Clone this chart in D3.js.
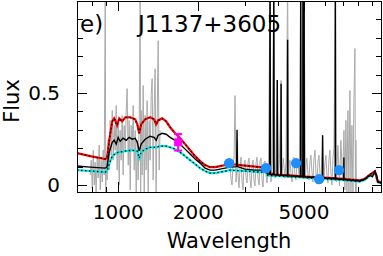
<!DOCTYPE html>
<html>
<head>
<meta charset="utf-8">
<title>J1137+3605</title>
<script src="https://cdn.jsdelivr.net/npm/d3@7"></script>
<style>
  body { margin: 0; background: #fff; }
  text { font-family: "DejaVu Sans", sans-serif; fill: #000; }
</style>
</head>
<body>
<div id="container"></div>
<script>
  // Observed spectrum, [wavelength (A), flux]
  const obsUV = [[785,0.054],[792,0.135],[799,-0.016],[806,0.189],[813,0],[819,0.124],[826,-0.038],[834,0.146],
    [841,0.038],[848,0.216],[856,-0.027],[863,0.135],[871,0.016],[878,0.189],[886,0.054],[894,1.05],[898,-0.038],
    [902,0.135],[909,0.027],[917,0.243],[925,0.081],[933,0.351],[941,0.162],[950,0.405],[958,0.135],[966,0.324],
    [974,0.189],[983,0.432],[991,0.081],[1000,0.351],[1009,0],[1017,0.297],[1026,0.135],[1035,0.378],[1044,0.054],
    [1053,0.324],[1063,0.189],[1072,0.405],[1081,0.524],[1091,0.108],[1100,0.351],[1110,-0.027],[1119,0.324],
    [1129,0.189],[1139,0.432],[1149,0.081],[1159,0.297],[1169,-0.038],[1179,0.243],[1189,0.027],[1200,0.351],
    [1210,1.05],[1215,-0.038],[1221,0.405],[1231,0.054],[1242,0.541],[1253,-0.038],[1263,0.378],[1274,0.081],
    [1285,0.459],[1297,-0.038],[1308,0.351],[1319,0.135],[1331,0.486],[1342,0.578],[1354,0.027],[1366,0.405],
    [1377,0.632],[1389,-0.038],[1402,0.351],[1414,0.784],[1426,0.081],[1438,0.297]];

  const obsOpt = [[2636,0.108],[2659,0.03],[2682,0],[2705,0.12],[2729,0.146],[2752,0.486],[2776,0.016],[2800,0.1],
    [2812,0.243],[2824,0.05],[2849,-0.016],[2874,0.1],[2899,0.151],[2924,0.02],[2949,-0.027],[2975,0.11],[3001,0.135],
    [3027,0.04],[3053,0.011],[3080,0.125],[3107,0.146],[3134,0.03],[3161,-0.016],[3188,0.1],[3216,0.135],[3244,0.02],
    [3272,-0.005],[3301,0.12],[3329,0.151],[3358,0.04],[3388,0],[3417,0.13],[3447,0.146],[3477,0.03],[3507,-0.011],
    [3538,0.12],[3568,0.13],[3600,0.05],[3630,0.011],[3677,0.119],[3727,1.1],[3758,0.016],
    [3791,0.135],[3850,1.1],[3890,0.038],[3924,0.124],[3968,0.568],[4010,0.049],[4045,0.146],[4101,0.568],
    [4132,0.054],[4178,0.146],[4242,0.038],[4280,0.135],[4340,1.1],[4380,0.038],[4405,0.12],[4430,0.135],[4470,0.06],
    [4508,0.016],[4547,0.11],[4586,0.151],[4625,0.05],[4666,0.027],[4707,0.12],[4748,0.135],[4780,0.06],[4810,0.038],
    [4861,1.1],[4910,0.054],[4959,1.1],[4985,0.05],[5007,1.1],
    [5060,0.038],[5095,0.12],[5130,0.146],[5175,0.06],[5220,0.027],[5266,0.13],[5312,0.162],[5358,0.07],[5405,0.016],
    [5452,0.14],[5500,0.189],[5548,0.06],[5597,0.005],[5646,0.13],[5695,0.162],[5745,0.06],[5795,0.016],[5876,0.27],
    [5945,0.038],[5997,0.12],[6049,0.162],[6102,0.05],[6155,0.011],[6208,0.14],[6262,0.189],[6317,0.06],[6372,0],
    [6428,0.15],[6484,0.2],[6563,1.1],
    [6620,0.016],[6710,0.216],[6800,-0.005],[6888,0.243],[6980,0.027],[7070,0.297],[7130,-0.027],[7192,0.351],
    [7255,-0.038],[7318,0.405],[7381,-0.038],[7445,0.514],[7510,-0.038],[7575,0.324],[7641,-0.038],[7708,0.459],
    [7775,0.741],[7809,-0.038],[7843,0.243],[7877,-0.038]];

  // Best-fit model (black), with emission lines
  const modelTotal = [[700,0.103],[785,0.097],[894,0.092],[908,0.097],[925,0.178],[950,0.232],[966,0.243],
    [983,0.222],[1000,0.259],[1017,0.238],[1044,0.254],[1072,0.243],[1100,0.259],[1129,0.249],[1159,0.254],
    [1180,0.232],[1200,0.184],[1220,0.222],[1263,0.249],[1319,0.265],[1365,0.259],[1390,0.243],[1414,0.27],
    [1463,0.281],[1515,0.276],[1568,0.259],[1637,0.243],[1710,0.222],[1786,0.195],[1865,0.168],[1947,0.141],
    [2033,0.119],[2123,0.092],[2217,0.081],[2315,0.081],[2417,0.086],[2636,0.097],[2790,0.1],[2800,0.3],[2810,0.1],
    [3001,0.086],[3272,0.081],[3568,0.081],[3646,0.06],[3715,0.058],[3727,1.2],[3739,0.058],[3840,0.056],[3850,1.2],
    [3860,0.056],[3958,0.055],[3968,0.57],[3978,0.055],[4091,0.053],[4101,0.55],[4111,0.053],[4330,0.05],[4340,0.79],
    [4350,0.05],[4851,0.046],[4861,1.2],[4871,0.046],[4949,0.045],[4959,1.2],[4969,0.045],[4997,0.045],[5007,1.2],
    [5017,0.045],[5866,0.038],[5876,0.27],[5886,0.038],[6553,0.034],[6563,1.2],[6573,0.034],[7055,0.03],[7065,0.15],
    [7075,0.03],[8118,0.022],[8477,0.032],[8852,0.054],[9050,0.045],[9244,0.075],[9400,0.049],[9480,0.016],[9820,0.011]];

  // Upper (red) and lower (cyan) model envelopes
  const modelHigh = [[700,0.173],[785,0.157],[894,0.141],[908,0.146],[925,0.243],[950,0.346],[966,0.362],[991,0.324],
    [1009,0.362],[1035,0.346],[1063,0.368],[1110,0.368],[1159,0.357],[1180,0.33],[1200,0.281],[1220,0.33],[1263,0.357],
    [1319,0.368],[1365,0.357],[1390,0.33],[1414,0.351],[1463,0.362],[1515,0.346],[1568,0.314],[1637,0.281],[1710,0.254],
    [1786,0.222],[1865,0.189],[1947,0.157],[2033,0.13],[2123,0.108],[2217,0.097],[2315,0.097],[2417,0.103],[2636,0.114],
    [2874,0.108],[3134,0.103],[3417,0.097],[3600,0.092],[3646,0.068],[3890,0.057],[4430,0.052],[5044,0.046],[5743,0.041],
    [6828,0.035],[8118,0.025],[8477,0.035],[8852,0.057],[9244,0.075],[9480,0.02],[9820,0.014]];

  const modelLow = [[700,0.081],[785,0.076],[894,0.07],[908,0.076],[925,0.114],[950,0.157],[983,0.173],[1000,0.178],
    [1063,0.184],[1129,0.189],[1180,0.184],[1200,0.146],[1220,0.178],[1263,0.195],[1319,0.205],[1390,0.205],[1438,0.211],
    [1515,0.211],[1568,0.205],[1637,0.195],[1710,0.178],[1786,0.157],[1865,0.135],[1947,0.114],[2033,0.092],[2123,0.076],
    [2217,0.065],[2315,0.065],[2417,0.07],[2636,0.081],[3001,0.076],[3417,0.07],[3600,0.07],[3646,0.052],[3890,0.05],
    [4430,0.045],[5044,0.04],[5743,0.034],[6828,0.028],[8118,0.019],[8477,0.028],[8852,0.05],[9244,0.068],[9480,0.014],
    [9820,0.008]];

  // Photometry
  const photWave = [2614, 3600, 4670, 5700, 6775];
  const photFlux = [0.119, 0.092, 0.119, 0.032, 0.081];
  const uvWave = [1681];
  const uvFlux = [0.232];
  const uvErr = [0.045];

  // Ticks
  const xMajor = [1000, 2000, 5000];
  const xMinor = [800, 900, 3000, 4000, 6000, 7000, 8000, 9000];
  const yMajor = [0, 0.5];
  const yMinor = [0.1, 0.2, 0.3, 0.4, 0.6, 0.7, 0.8, 0.9];

  const width = 383;
  const height = 256;
  const marginLeft = 77, plotRight = 382, marginTop = 1, plotBottom = 192;

  const x = d3.scaleLog().domain([700, 9830]).range([marginLeft, plotRight]);
  const y = d3.scaleLinear().domain([-0.038, 1.0]).range([plotBottom, marginTop]);

  const svg = d3.create("svg")
      .attr("width", width)
      .attr("height", height);

  svg.append("clipPath").attr("id", "clip")
    .append("rect")
      .attr("x", marginLeft).attr("y", marginTop)
      .attr("width", plotRight - marginLeft).attr("height", plotBottom - marginTop);

  const plot = svg.append("g").attr("clip-path", "url(#clip)");
  const line = d3.line().x(d => x(d[0])).y(d => y(d[1]));

  // Observed spectrum
  [obsUV, obsOpt].forEach(s => {
    plot.append("path").datum(s)
        .attr("d", line)
        .attr("fill", "none")
        .attr("stroke", "#aaaaaa")
        .attr("stroke-width", 1);
  });

  // Envelopes: colour line with black dotted overlay
  [[modelLow, "#00e8e8"], [modelHigh, "#ff0000"]].forEach(([s, c]) => {
    plot.append("path").datum(s)
        .attr("d", line)
        .attr("fill", "none")
        .attr("stroke", c)
        .attr("stroke-width", 2.2);
    plot.append("path").datum(s)
        .attr("d", line)
        .attr("fill", "none")
        .attr("stroke", "#000")
        .attr("stroke-width", 1.3)
        .attr("stroke-dasharray", "1.5,2.5");
  });

  plot.append("path").datum(modelTotal)
      .attr("d", line)
      .attr("fill", "none")
      .attr("stroke", "#000")
      .attr("stroke-width", 1.4);

  // UV point with error bar
  uvWave.forEach((w, i) => {
    const cx = x(w);
    plot.append("line")
        .attr("x1", cx).attr("x2", cx)
        .attr("y1", y(uvFlux[i] - uvErr[i])).attr("y2", y(uvFlux[i] + uvErr[i]))
        .attr("stroke", "#ff00ff").attr("stroke-width", 2);
    [uvFlux[i] - uvErr[i], uvFlux[i] + uvErr[i]].forEach(v => {
      plot.append("line")
          .attr("x1", cx - 4).attr("x2", cx + 4)
          .attr("y1", y(v)).attr("y2", y(v))
          .attr("stroke", "#ff00ff").attr("stroke-width", 2);
    });
    plot.append("rect")
        .attr("x", cx - 4).attr("y", y(uvFlux[i]) - 4)
        .attr("width", 8).attr("height", 8)
        .attr("fill", "#ff00ff");
  });

  // Photometric points
  plot.append("g")
    .selectAll("circle")
    .data(photWave)
    .join("circle")
      .attr("cx", d => x(d))
      .attr("cy", (d, i) => y(photFlux[i]))
      .attr("r", 5.2)
      .attr("fill", "#1e8fff");

  // Frame
  svg.append("rect")
      .attr("x", marginLeft + 0.5).attr("y", marginTop + 0.5)
      .attr("width", plotRight - marginLeft - 1).attr("height", plotBottom - marginTop)
      .attr("fill", "none")
      .attr("stroke", "#000")
      .attr("stroke-width", 1);

  // Inward ticks on all four sides
  const tickG = svg.append("g").attr("stroke", "#000").attr("stroke-width", 1);
  const xTicks = xMajor.map(v => [v, 10]).concat(xMinor.map(v => [v, 5]));
  xTicks.forEach(([v, len]) => {
    const px = Math.round(x(v)) + 0.5;
    tickG.append("line").attr("x1", px).attr("x2", px).attr("y1", plotBottom).attr("y2", plotBottom - len);
    tickG.append("line").attr("x1", px).attr("x2", px).attr("y1", marginTop).attr("y2", marginTop + len);
  });
  const yTicks = yMajor.map(v => [v, 10]).concat(yMinor.map(v => [v, 6]));
  yTicks.forEach(([v, len]) => {
    const py = Math.round(y(v)) + 0.5;
    tickG.append("line").attr("x1", marginLeft).attr("x2", marginLeft + len).attr("y1", py).attr("y2", py);
    tickG.append("line").attr("x1", plotRight).attr("x2", plotRight - len).attr("y1", py).attr("y2", py);
  });

  // Tick labels
  svg.append("g")
    .selectAll("text")
    .data(xMajor)
    .join("text")
      .attr("x", d => x(d))
      .attr("y", 219)
      .attr("text-anchor", "middle")
      .attr("font-size", 20)
      .text(d => d);

  svg.append("g")
    .selectAll("text")
    .data(yMajor)
    .join("text")
      .attr("x", 60)
      .attr("y", d => y(d) + 7)
      .attr("text-anchor", "end")
      .attr("font-size", 20)
      .text(d => d);

  // Axis titles
  svg.append("text")
      .attr("x", 229).attr("y", 248)
      .attr("text-anchor", "middle")
      .attr("font-size", 21)
      .text("Wavelength");

  svg.append("text")
      .attr("transform", "translate(19,101) rotate(-90)")
      .attr("text-anchor", "middle")
      .attr("font-size", 21)
      .text("Flux");

  // Panel label and object name
  svg.append("text")
      .attr("x", 80).attr("y", 32)
      .attr("font-size", 23)
      .text("e)");

  svg.append("text")
      .attr("x", 138).attr("y", 32)
      .attr("font-size", 23)
      .text("J1137+3605");

  document.getElementById("container").append(svg.node());
</script>
</body>
</html>
